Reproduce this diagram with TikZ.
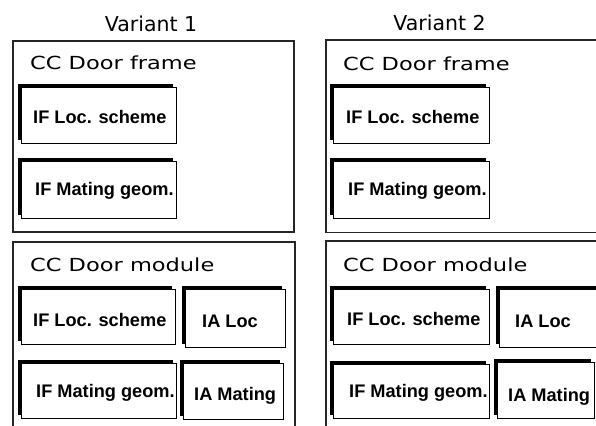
\documentclass[tikz,border=0pt]{standalone}
\usepackage{fontspec}
\setmainfont{Liberation Sans}
\newfontfamily\titlefont{DejaVu Sans}
\newfontfamily\ccfont[FakeStretch=1.25]{DejaVu Sans}
\usetikzlibrary{shadows}
\tikzset{
  frameline/.style={draw=black!85, line width=1.8pt, fill=white, inner sep=0pt, anchor=north west},
  ifbox/.style={draw=black, line width=1.1pt, fill=white, inner sep=0pt, anchor=north west,
    drop shadow={shadow xshift=-4pt, shadow yshift=4pt, fill=black, opacity=1}},
  lbl/.style={font=\bfseries\fontsize{18.2}{21}\selectfont, inner sep=0pt, anchor=base west},
  cclbl/.style={font=\ccfont\fontsize{18}{21}\selectfont, inner sep=0pt, anchor=base west},
  varlbl/.style={font=\titlefont\fontsize{20.5}{24}\selectfont, inner sep=0pt, anchor=base}
}
\begin{document}
\begin{tikzpicture}[x=1pt,y=-1pt]
\fill[white] (0,0) rectangle (596,425);
\clip (0,0) rectangle (596,425);
% titles
\node[varlbl] (v1) at (151,32) {Variant 1};
\node[varlbl] (v2) at (439.5,31) {Variant 2};
% container frames
\node[frameline, minimum width=281pt, minimum height=191pt] (cf1) at (12,40) {};
\node[frameline, minimum width=282pt, minimum height=220pt] (cm1) at (12,241) {};
\node[frameline, minimum width=320pt, minimum height=192pt] (cf2) at (325,39.5) {};
\node[frameline, minimum width=320pt, minimum height=220pt] (cm2) at (325,240) {};
\node[cclbl] (tcf1) at (30,70) {CC Door frame};
\node[cclbl] (tcm1) at (30,271) {CC Door module};
\node[cclbl] (tcf2) at (343,70.5) {CC Door frame};
\node[cclbl] (tcm2) at (343,271) {CC Door module};
% Variant 1 boxes
\node[ifbox, minimum width=155pt, minimum height=56pt] (f1a) at (21,87) {};
\node[ifbox, minimum width=155pt, minimum height=57pt] (f1b) at (21,161) {};
\node[ifbox, minimum width=154pt, minimum height=55pt] (m1a) at (21,289) {};
\node[ifbox, minimum width=100pt, minimum height=58pt] (m1b) at (185,289) {};
\node[ifbox, minimum width=155pt, minimum height=55pt] (m1c) at (21,363) {};
\node[ifbox, minimum width=100pt, minimum height=56pt] (m1d) at (183,363) {};
\node[lbl] (tf1a) at (33,124) {IF Loc. scheme};
\node[lbl] (tf1b) at (35,195) {IF Mating geom.};
\node[lbl] (tm1a) at (33,326) {IF Loc. scheme};
\node[lbl] (tm1b) at (202,327) {IA Loc};
\node[lbl] (tm1c) at (36,397) {IF Mating geom.};
\node[lbl] (tm1d) at (194,400) {IA Mating};
% Variant 2 boxes
\node[ifbox, minimum width=156pt, minimum height=56pt] (f2a) at (333,87) {};
\node[ifbox, minimum width=156pt, minimum height=57pt] (f2b) at (333,161) {};
\node[ifbox, minimum width=156pt, minimum height=55pt] (m2a) at (333,289) {};
\node[ifbox, minimum width=130pt, minimum height=58pt] (m2b) at (499,289) {};
\node[ifbox, minimum width=156pt, minimum height=54pt] (m2c) at (333,364) {};
\node[ifbox, minimum width=97pt, minimum height=56pt] (m2d) at (497,362) {};
\node[lbl] (tf2a) at (346,124) {IF Loc. scheme};
\node[lbl] (tf2b) at (348,195) {IF Mating geom.};
\node[lbl] (tm2a) at (347,325) {IF Loc. scheme};
\node[lbl] (tm2b) at (515,327) {IA Loc};
\node[lbl] (tm2c) at (349,397) {IF Mating geom.};
\node[lbl] (tm2d) at (508,401) {IA Mating};
\end{tikzpicture}
\end{document}
